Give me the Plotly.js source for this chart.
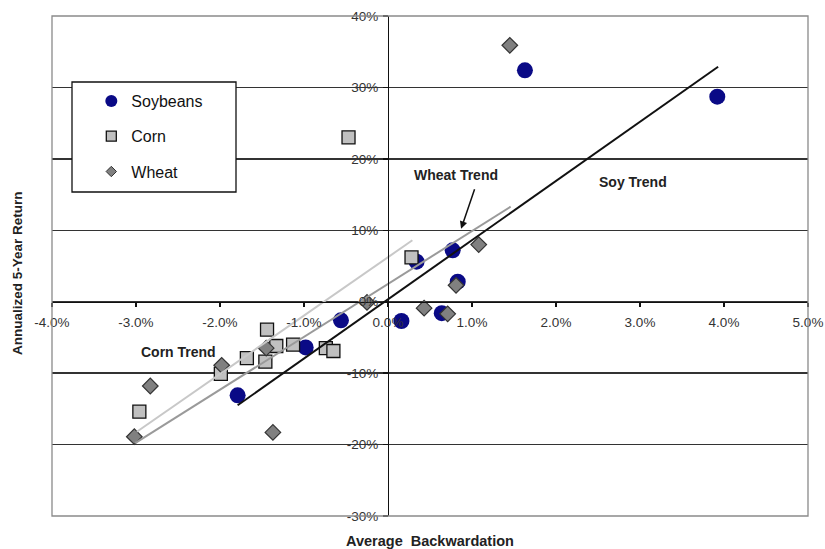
<!DOCTYPE html>
<html>
<head>
<meta charset="utf-8">
<script src="https://cdn.plot.ly/plotly-3.0.1.min.js"></script>
<style>html,body{margin:0;padding:0;background:#fff;}#chart{width:825px;height:549px;}</style>
</head>
<body>
<div id="chart"></div>
<script>
// Average backwardation (%) and annualized 5-year return (%)
const soyX = [1.63, 3.92, 0.77, 0.34, 0.83, 0.16, 0.64, -0.56, -0.98, -1.79];
const soyY = [32.4, 28.7, 7.2, 5.6, 2.8, -2.7, -1.6, -2.6, -6.4, -13.1];

const cornX = [-0.47, 0.28, -1.44, -1.33, -1.13, -0.74, -0.65, -1.68, -1.46, -1.99, -2.96];
const cornY = [23.0, 6.2, -3.9, -6.2, -6.0, -6.5, -6.9, -7.9, -8.4, -10.1, -15.4];

const wheatX = [1.45, 1.08, 0.81, 0.43, 0.71, -0.25, -1.45, -1.98, -2.83, -3.02, -1.37];
const wheatY = [35.9, 8.0, 2.3, -0.9, -1.7, -0.1, -6.5, -8.9, -11.8, -18.9, -18.3];

// Trend line end points
const soyTrendX = [-1.79, 3.93];
const soyTrendY = [-14.5, 32.9];
const wheatTrendX = [-3.01, 1.46];
const wheatTrendY = [-19.8, 13.3];
const cornTrendX = [-2.99, 0.29];
const cornTrendY = [-18.2, 8.6];

const xTicks = [-4, -3, -2, -1, 0, 1, 2, 3, 4, 5];
const xTickText = ["-4.0%", "-3.0%", "-2.0%", "-1.0%", "0.0%", "1.0%", "2.0%", "3.0%", "4.0%", "5.0%"];
const yTicks = [-30, -20, -10, 0, 10, 20, 30, 40];
const yTickText = ["-30%", "-20%", "-10%", "0%", "10%", "20%", "30%", "40%"];

const seriesNames = ["Soybeans", "Corn", "Wheat"];
const xTitle = "Average\u00a0 Backwardation";
const yTitle = "Annualized 5-Year Return";

const FONT = "Arial, 'Liberation Sans', sans-serif";

const soyMarker = {symbol: "circle", size: 16, color: "#0a0a86", line: {width: 0}};
const cornMarker = {symbol: "square", size: 13, color: "#c0c0c0", line: {width: 1.3, color: "#111"}};
const wheatMarker = {symbol: "diamond", size: 12, color: "#808080", line: {width: 1.2, color: "#333"}};

const traces = [
  {type: "scatter", mode: "markers", x: soyX, y: soyY, marker: soyMarker, showlegend: false, hoverinfo: "skip"},
  {type: "scatter", mode: "markers", x: cornX, y: cornY, marker: cornMarker, showlegend: false, hoverinfo: "skip"},
  {type: "scatter", mode: "markers", x: wheatX, y: wheatY, marker: wheatMarker, showlegend: false, hoverinfo: "skip"},
  {type: "scatter", mode: "lines", x: cornTrendX, y: cornTrendY, line: {color: "#c8c8c8", width: 2}, showlegend: false, hoverinfo: "skip"},
  {type: "scatter", mode: "lines", x: wheatTrendX, y: wheatTrendY, line: {color: "#9a9a9a", width: 2}, showlegend: false, hoverinfo: "skip"},
  {type: "scatter", mode: "lines", x: soyTrendX, y: soyTrendY, line: {color: "#111", width: 2}, showlegend: false, hoverinfo: "skip"},
  // legend entries
  {type: "scatter", mode: "markers", x: [null], y: [null], name: seriesNames[0], legendgroup: "a",
   marker: {symbol: "circle", size: 12, color: "#0a0a86"}},
  {type: "scatter", mode: "markers", x: [null], y: [null], name: seriesNames[1], legendgroup: "b",
   marker: {symbol: "square", size: 10, color: "#c0c0c0", line: {width: 1.3, color: "#111"}}},
  {type: "scatter", mode: "markers", x: [null], y: [null], name: seriesNames[2], legendgroup: "c",
   marker: {symbol: "diamond", size: 8, color: "#808080", line: {width: 1, color: "#333"}}}
];

const annFont = {family: FONT, size: 14, color: "#222", weight: "bold"};

const layout = {
  width: 825, height: 549,
  margin: {l: 52, r: 17, t: 16, b: 33},
  paper_bgcolor: "#fff", plot_bgcolor: "#fff",
  font: {family: FONT, color: "#222"},
  showlegend: true,
  legend: {
    x: 0.052, xanchor: "left", y: 0.864, yanchor: "top",
    bgcolor: "rgba(0,0,0,0)", borderwidth: 0,
    font: {family: FONT, size: 16, color: "#111"},
    traceorder: "grouped", tracegroupgap: 11.5
  },
  xaxis: {
    range: [-4, 5], anchor: "free", position: 30 / 70,
    tickvals: xTicks, ticktext: xTickText,
    showgrid: false, zeroline: false,
    showline: true, linecolor: "#111", linewidth: 1.3,
    ticks: "outside", ticklen: 4, tickcolor: "#111", tickwidth: 1.3,
    ticklabelstandoff: 4,
    tickfont: {family: FONT, size: 13.5, color: "#333"}
  },
  yaxis: {
    range: [-30, 40], anchor: "free", position: 4 / 9,
    tickvals: yTicks, ticktext: yTickText,
    showgrid: true, gridcolor: "#333", gridwidth: 1.5, zeroline: false,
    showline: true, linecolor: "#111", linewidth: 1.3,
    ticks: "outside", ticklen: 5, tickcolor: "#111", tickwidth: 1.3,
    ticklabelstandoff: 2,
    tickfont: {family: FONT, size: 13.5, color: "#333"}
  },
  shapes: [
    {type: "rect", xref: "paper", yref: "paper", x0: 0, x1: 1, y0: 0, y1: 1,
     line: {color: "#8a8a8a", width: 1.3}, layer: "above"},
    {type: "rect", xref: "paper", yref: "paper", x0: 20 / 756, x1: 184 / 756, y0: (516 - 192) / 500, y1: (516 - 82) / 500,
     fillcolor: "#fff", line: {color: "#111", width: 1.3}, layer: "above"}
  ],
  annotations: [
    {xref: "x", yref: "y", x: 0.81, y: 17.7, text: "Wheat Trend", showarrow: false, font: annFont},
    {xref: "x", yref: "y", x: 2.92, y: 16.8, text: "Soy Trend", showarrow: false, font: annFont},
    {xref: "x", yref: "y", x: -2.49, y: -7.0, text: "Corn Trend", showarrow: false, font: annFont},
    {xref: "x", yref: "y", x: 0.87, y: 10.2, text: "", showarrow: true, ax: 14, ay: -41,
     axref: "pixel", ayref: "pixel", arrowhead: 2, arrowsize: 1, arrowwidth: 1.5, arrowcolor: "#111"},
    {xref: "paper", yref: "paper", x: -35 / 756, y: (516 - 273) / 500, text: yTitle, textangle: -90,
     showarrow: false, xanchor: "center", yanchor: "middle", font: {family: FONT, size: 13.5, color: "#222", weight: "bold"}},
    {xref: "paper", yref: "paper", x: 0.5, y: (516 - 541) / 500, text: xTitle,
     showarrow: false, xanchor: "center", yanchor: "middle", font: {family: FONT, size: 14.5, color: "#222", weight: "bold"}}
  ]
};

Plotly.newPlot("chart", traces, layout, {displayModeBar: false, staticPlot: true});
</script>
</body>
</html>
